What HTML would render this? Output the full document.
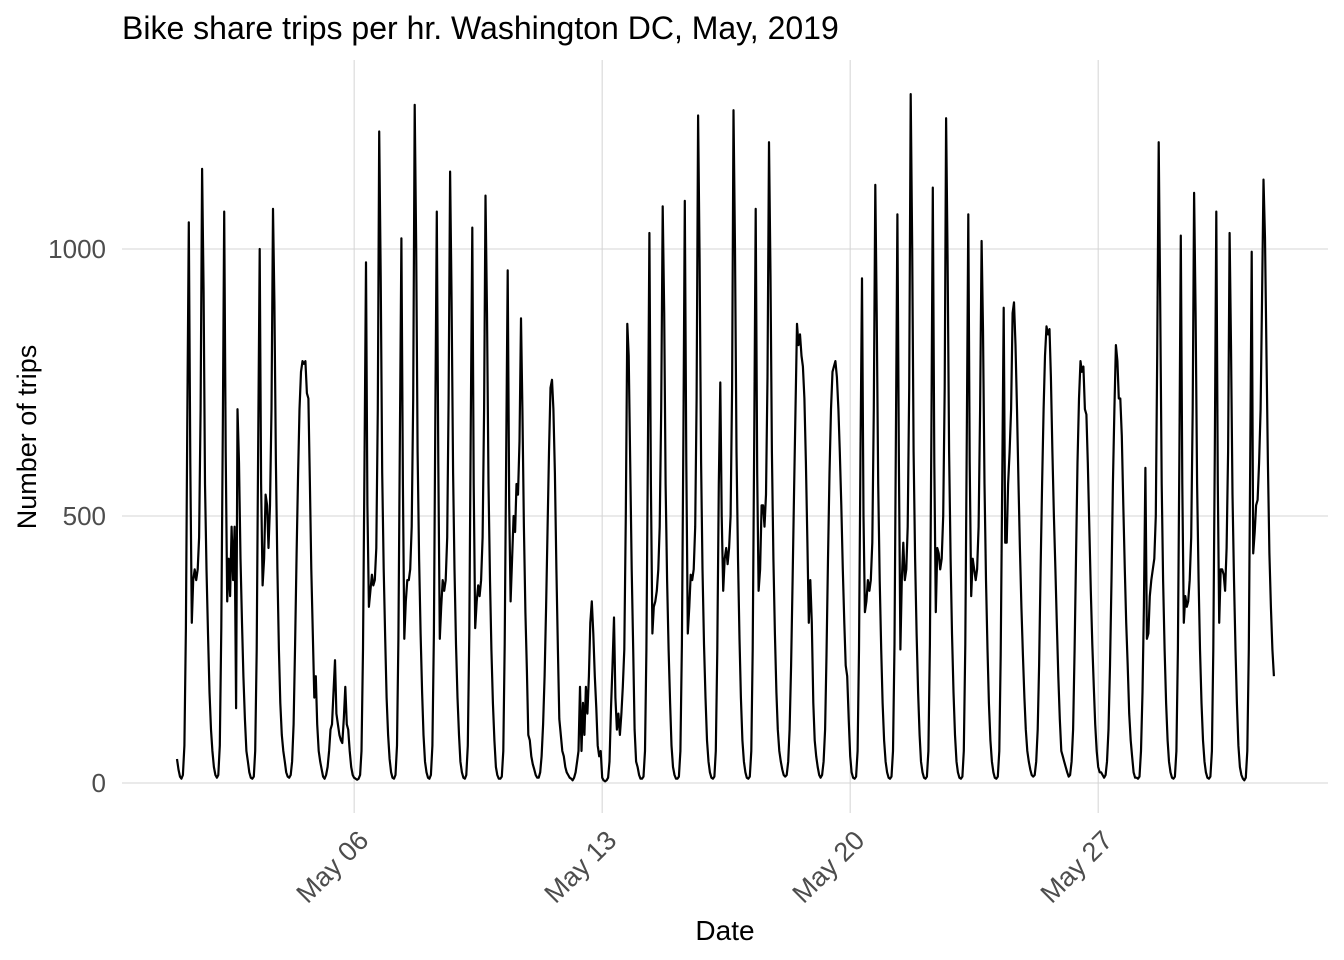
<!DOCTYPE html>
<html><head><meta charset="utf-8"><style>
html,body{margin:0;padding:0;background:#fff}
svg{display:block;font-family:"Liberation Sans",Arial,sans-serif}
</style></head><body>
<svg id="chart" width="1344" height="960">
<text x="122" y="39" font-size="32" fill="#000">Bike share trips per hr. Washington DC, May, 2019</text>
<text x="725" y="940" font-size="28" text-anchor="middle" fill="#000">Date</text>
<text transform="translate(36,437) rotate(-90)" font-size="27" text-anchor="middle" fill="#000">Number of trips</text>
<g id="grid"></g><g id="ticks"></g><g id="series"></g>
</svg>
<script>
const yTicks=[0,500,1000];
const xTickDays=[6,13,20,27];
const xTickLabels=["May 06","May 13","May 20","May 27"];
const days=[
[45,25,12,8,15,70,290,680,1050,600,300,380,400,380,400,460,700,1150,920,560,400,280,170,100],
[60,30,15,10,15,70,290,660,1070,620,340,420,350,480,380,480,140,700,600,420,300,200,120,60],
[40,20,10,8,12,60,250,640,1000,560,370,420,540,520,440,520,700,1075,900,600,400,250,150,90],
[60,40,20,12,10,15,40,110,260,430,580,700,770,790,785,790,730,720,560,400,280,160,200,110],
[60,40,25,12,8,15,30,60,100,110,170,230,130,110,90,80,75,120,180,110,100,60,30,15],
[10,8,6,8,15,60,250,600,975,520,330,360,390,370,380,440,700,1220,950,580,400,270,160,90],
[45,20,10,8,15,70,270,650,1020,560,270,340,380,380,400,480,720,1270,1000,620,420,280,170,90],
[40,20,10,8,15,70,280,680,1070,600,270,330,380,360,380,460,720,1145,900,580,400,260,160,90],
[40,20,10,8,15,70,280,680,1040,560,290,340,370,350,380,460,700,1100,880,560,380,250,150,80],
[30,15,8,8,12,60,260,620,960,520,340,420,500,470,560,540,640,870,700,480,320,210,90,80],
[50,35,25,15,10,10,20,50,110,200,330,470,620,740,755,700,580,400,250,120,90,60,50,30],
[20,15,10,8,5,10,20,40,60,180,60,150,90,180,130,200,300,340,280,200,140,70,50,60],
[10,5,3,5,10,40,140,220,310,160,100,130,90,130,180,250,500,860,800,600,400,250,100,40],
[30,15,8,8,12,60,250,620,1030,560,280,330,340,360,400,480,700,1080,880,560,380,250,150,70],
[30,15,8,8,12,60,260,650,1090,600,280,330,390,380,400,480,720,1250,980,600,400,260,160,80],
[40,20,10,8,12,60,250,560,750,500,360,420,440,410,440,500,740,1260,1000,620,420,270,160,80],
[40,20,10,8,12,60,250,640,1075,580,360,400,520,520,480,540,760,1200,950,620,420,280,170,100],
[60,40,25,15,12,15,40,100,220,380,550,700,860,820,840,800,780,720,600,450,300,380,300,150],
[80,50,30,15,10,15,40,100,240,420,580,700,770,780,790,760,700,620,520,400,300,220,200,120],
[50,20,10,8,12,60,250,620,945,500,320,340,380,360,380,450,700,1120,880,560,380,250,150,80],
[40,20,10,8,12,60,260,650,1065,600,250,380,450,380,400,480,740,1290,1000,620,420,280,170,90],
[40,20,10,8,12,60,260,660,1115,600,320,440,430,400,420,500,740,1245,980,620,420,280,170,90],
[40,20,10,8,12,60,260,650,1065,600,350,420,400,380,400,480,700,1015,850,560,380,250,150,80],
[40,20,10,8,12,60,240,560,890,450,450,560,620,700,880,900,820,700,560,440,330,240,160,100],
[60,40,25,15,12,15,40,100,220,400,560,700,800,855,840,850,760,620,500,400,300,200,120,60],
[50,40,30,20,12,15,40,100,250,420,600,720,790,770,780,700,690,600,480,360,260,180,110,60],
[30,20,20,15,10,15,40,100,220,380,560,700,820,790,720,720,650,520,400,300,220,130,80,50],
[20,10,10,8,12,60,170,330,590,270,280,350,380,400,420,500,800,1200,900,560,380,250,150,80],
[40,20,10,8,12,60,250,620,1025,560,300,350,330,340,380,460,700,1105,880,560,380,250,150,80],
[40,20,10,8,12,60,250,620,1070,560,300,400,400,390,360,440,620,1030,820,540,380,250,150,70],
[30,15,8,5,10,60,250,600,995,430,470,520,530,600,700,900,1130,1020,800,600,430,330,250,200]
];
const NS="http://www.w3.org/2000/svg";
const x=d=>177+(d-1)*35.43;
const y=v=>783-v*0.534;
function mk(tag,attrs,parent){const e=document.createElementNS(NS,tag);for(const k in attrs)e.setAttribute(k,attrs[k]);parent.appendChild(e);return e;}
const grid=document.getElementById('grid'),ticks=document.getElementById('ticks'),series=document.getElementById('series');
yTicks.forEach(v=>{
  const l=mk('line',{x1:122,x2:1328,y1:y(v),y2:y(v),stroke:'#d4d4d4','stroke-width':1},grid);
  
  
  const t=mk('text',{x:106,y:y(v)+9,'text-anchor':'end','font-size':26,fill:'#4d4d4d'},ticks);
  t.textContent=String(v);
  
  
});
xTickDays.forEach((d,i)=>{
  const l=mk('line',{x1:x(d),x2:x(d),y1:60,y2:813,stroke:'#d4d4d4','stroke-width':1},grid);
  
  
  const t=mk('text',{transform:`translate(${x(d)+16},842) rotate(-45)`,'text-anchor':'end','font-size':27,fill:'#4d4d4d'},ticks);
  t.textContent=xTickLabels[i];
  
  
});
let pts=[];
days.forEach((arr,di)=>arr.forEach((v,h)=>pts.push(x(di+1+h/24).toFixed(1)+','+y(v).toFixed(1))));
const p=mk('polyline',{points:pts.join(' '),fill:'none',stroke:'#000','stroke-width':2.2,'stroke-linejoin':'round'},series);


</script>
</body></html>
